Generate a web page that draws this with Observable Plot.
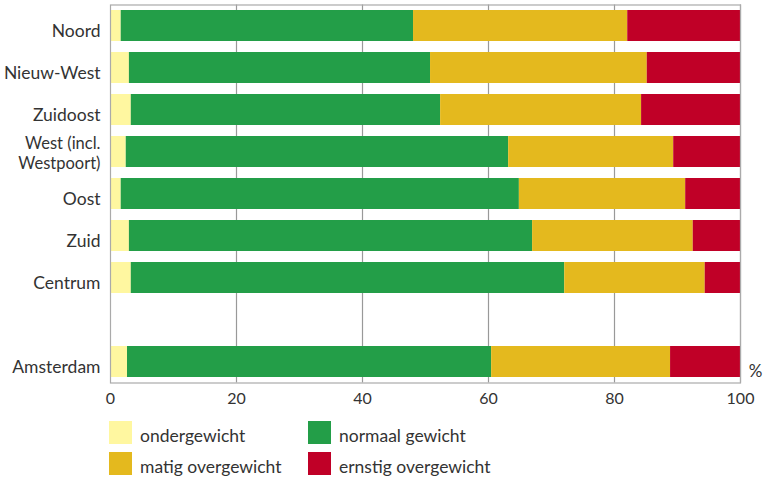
<!DOCTYPE html>
<html>
<head>
<meta charset="utf-8">
<script src="https://cdn.jsdelivr.net/npm/d3@7"></script>
<script src="https://cdn.jsdelivr.net/npm/@observablehq/plot@0.6"></script>
<style>
  body { margin: 0; background: #fff; font-family: Lato, "Noto Sans", sans-serif; }
  #wrap { position: relative; width: 770px; height: 479px; }
  .sw { position: absolute; width: 23px; height: 23px; }
  .lt { position: absolute; font-size: 17.5px; color: #333; line-height: 23px; white-space: nowrap; }
</style>
</head>
<body>
<div id="wrap"></div>
<script>
const regions = ["Noord", "Nieuw-West", "Zuidoost", "West (incl.\nWestpoort)", "Oost", "Zuid", "Centrum", " ", "Amsterdam"];
const categories = ["ondergewicht", "normaal gewicht", "matig overgewicht", "ernstig overgewicht"];
const colors = ["#fff7a0", "#239e48", "#e4b91e", "#c00027"];
const ondergewicht = [1.7, 3.0, 3.3, 2.5, 1.7, 3.0, 3.3, null, 2.7];
const normaal = [46.4, 47.8, 49.1, 60.7, 63.2, 64.0, 68.8, null, 57.8];
const matig = [34.0, 34.4, 31.9, 26.2, 26.4, 25.5, 22.3, null, 28.4];
const ernstig = [17.9, 14.8, 15.7, 10.6, 8.7, 7.5, 5.6, null, 11.1];
const xTicks = [0, 20, 40, 60, 80, 100];

const series = [ondergewicht, normaal, matig, ernstig];
const data = [];
regions.forEach((r, i) => {
  series.forEach((s, j) => {
    if (s[i] != null) data.push({region: r, category: categories[j], value: s[i]});
  });
});
const singleLine = regions.filter(r => r.trim() && !r.includes("\n"));
const multiLine = regions.filter(r => r.includes("\n"));

const chart = Plot.plot({
  width: 770,
  height: 410,
  marginLeft: 110,
  marginRight: 30,
  marginTop: 4.5,
  marginBottom: 27.5,
  style: {fontFamily: "Lato, 'Noto Sans', sans-serif", color: "#333", background: "#fff"},
  x: {domain: [0, 100]},
  y: {domain: regions, paddingInner: 0.26, paddingOuter: 0.13},
  color: {domain: categories, range: colors},
  marks: [
    Plot.ruleX(xTicks.slice(1), {stroke: "#999", strokeWidth: 1.2}),
    Plot.barX(data, {x: "value", y: "region", z: "category", fill: "category", order: categories}),
    Plot.frame({stroke: "#aaa", strokeWidth: 1.2}),
    Plot.axisX({ticks: xTicks, tickSize: 0, tickPadding: 10, fontSize: 16, label: null}),
    Plot.axisY({ticks: singleLine, tickSize: 0, tickPadding: 10, fontSize: 17.5, dy: 5, label: null}),
    Plot.axisY({ticks: multiLine, tickSize: 0, tickPadding: 10, fontSize: 16.5, lineHeight: 1.2, dy: 1, label: null}),
    Plot.text(["%"], {x: 100, frameAnchor: "bottom", dx: 15, dy: -6, fontSize: 17, fill: "#333"})
  ]
});

const wrap = document.getElementById("wrap");
wrap.appendChild(chart);
const legendPos = [
  {left: 109, top: 421}, {left: 308, top: 421},
  {left: 109, top: 452}, {left: 308, top: 452}
];
categories.forEach((c, i) => {
  const s = document.createElement("div");
  s.className = "sw";
  s.style.left = legendPos[i].left + "px";
  s.style.top = legendPos[i].top + "px";
  s.style.background = colors[i];
  wrap.appendChild(s);
  const t = document.createElement("div");
  t.className = "lt";
  t.style.left = (legendPos[i].left + 31) + "px";
  t.style.top = (legendPos[i].top + 3) + "px";
  t.textContent = c;
  wrap.appendChild(t);
});
</script>
</body>
</html>
